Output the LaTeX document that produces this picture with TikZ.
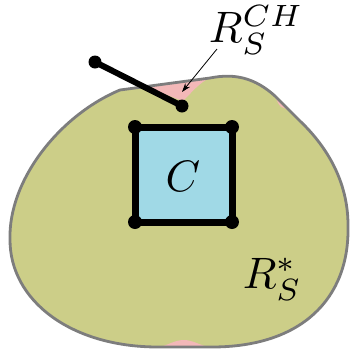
\documentclass[tikz,border=0pt]{standalone}
\usetikzlibrary{arrows.meta}
\definecolor{regiongreen}{RGB}{204,206,136}
\definecolor{hullpink}{RGB}{243,184,184}
\definecolor{boxblue}{RGB}{160,217,230}
\definecolor{hullgray}{RGB}{125,125,125}
\tikzset{
  bigtext/.style={scale=4.4, inner sep=0pt},
  dotmark/.style={fill=black},
  thickseg/.style={line width=6pt, black},
  hullline/.style={draw=hullgray, line width=2.8pt, line join=round},
}
\begin{document}
\begin{tikzpicture}[x=1pt,y=-1pt]
\useasboundingbox (0,0) rectangle (350,354);
\def\hullpath{(120,90) -- (210,78) .. controls (235,73) and (255,78) .. (275,96)
  -- (300,121) .. controls (320,140) and (348,175) .. (348,225)
  .. controls (350,300) and (300,347) .. (212,347) -- (158,347)
  .. controls (70,347) and (10,300) .. (10,240)
  .. controls (8,180) and (60,115) .. (120,90) -- cycle}
\fill[regiongreen] \hullpath;
% pink notches (hull minus region)
\fill[hullpink] (145,86.7) -- (183,101) .. controls (192,92) and (200,82) .. (210,78) -- cycle;
\fill[hullpink] (275,96) .. controls (277,100) and (278,104) .. (281,107) .. controls (285,108) and (289,110) .. (293,114) -- cycle;
\fill[hullpink] (160,347) .. controls (168,345) and (175,340) .. (184,340) .. controls (192,340) and (200,345) .. (208,347) -- cycle;
\draw[hullline] \hullpath;
% square C
\coordinate (c1) at (135,127);
\coordinate (c2) at (232,127);
\coordinate (c3) at (232,222);
\coordinate (c4) at (135,222);
\fill[boxblue] (c1) rectangle (c3);
\draw[line width=7pt, line join=miter] (c1) -- (c2) -- (c3) -- (c4) -- cycle;
\foreach \p in {c1,c2,c3,c4} \fill[dotmark] (\p) circle (7);
\node[bigtext, anchor=base] (lc) at (183,191) {$C$};
% stick
\coordinate (s1) at (95,62);
\coordinate (s2) at (182,106);
\draw[thickseg] (s1) -- (s2);
\fill[dotmark] (s1) circle (6.5);
\fill[dotmark] (s2) circle (6.5);
% labels
\node[bigtext, anchor=base west] (lch) at (208,42) {$R_S^{CH}$};
\coordinate (a1) at (217,49);
\coordinate (a2) at (182,92);
\draw[-{Stealth[length=9pt,width=6pt]}, line width=0.8pt] (a1) -- (a2);
\node[bigtext, anchor=base west] (lstar) at (242,288) {$R_S^*$};
\end{tikzpicture}
\end{document}
